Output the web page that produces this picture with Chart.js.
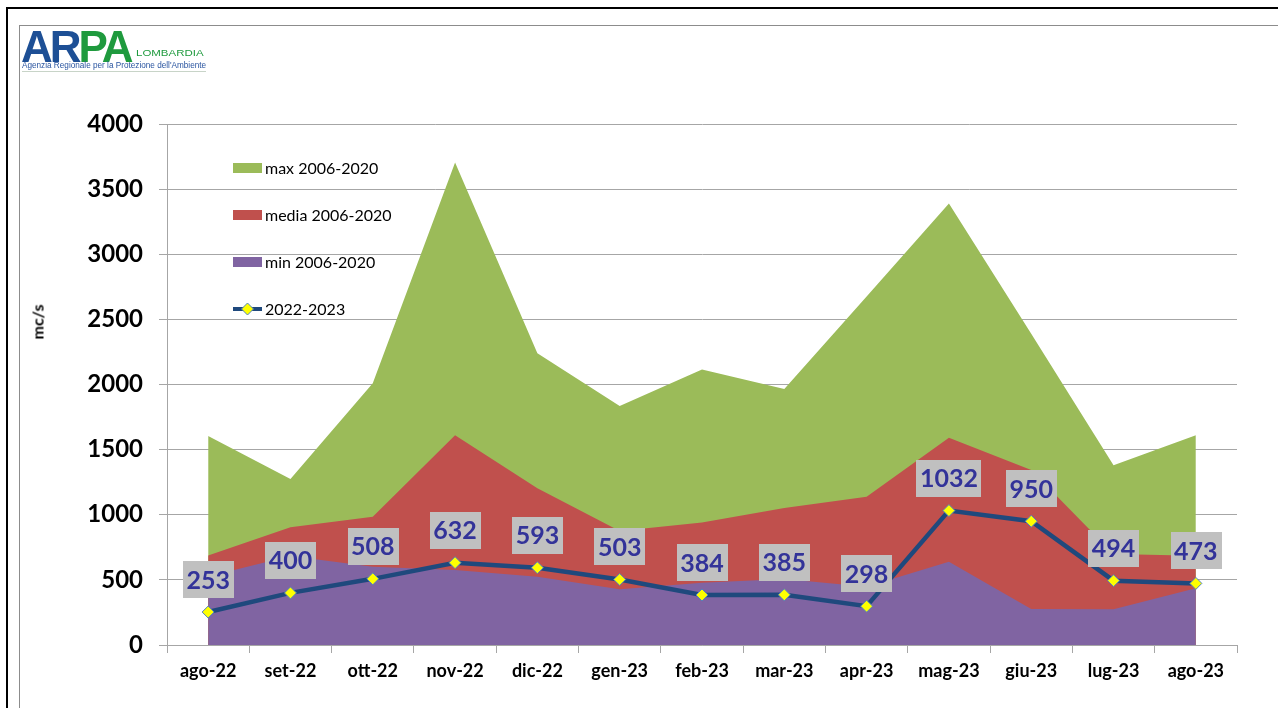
<!DOCTYPE html>
<html>
<head>
<meta charset="utf-8">
<script src="https://cdn.jsdelivr.net/npm/chart.js@4/dist/chart.umd.min.js"></script>
<style>
  html, body { margin: 0; padding: 0; background: #fff; overflow: hidden; }
  body { width: 1278px; height: 708px; position: relative; font-family: Lato, sans-serif; }
  .frame { position: absolute; left: 6px; top: 7px; width: 1300px; height: 720px; border: 2px solid #000; box-sizing: border-box; }
  .inner { position: absolute; left: 19px; top: 25px; width: 1300px; height: 720px; border: 1px solid #8c8c8c; box-sizing: border-box; }
  #wrap { position: absolute; left: 0; top: 0; width: 1278px; height: 708px; }
  .logo { position: absolute; left: 21px; top: 25px; width: 186px; height: 50px; font-family: 'Liberation Sans', Arial, sans-serif; }
  .logo .big { position: absolute; left: 0; top: 0; font-weight: bold; font-size: 44px; letter-spacing: -3px; line-height: 44px; white-space: nowrap; }
  .logo .ar { color: #1d4f95; }
  .logo .pa { color: #1f9a3e; }
  .logo .lomb { position: absolute; left: 115px; top: 23px; font-size: 8.5px; line-height: 10px; color: #1f9a3e; transform: scaleX(1.35); transform-origin: left top; white-space: nowrap; }
  .logo .sub { position: absolute; left: 1px; top: 36px; font-size: 8.2px; line-height: 9px; color: #2a55a0; white-space: nowrap; }
  .logo .rule { position: absolute; left: 1px; top: 46px; width: 184px; height: 1px; background: #c8d4c8; }
  .ytitle { position: absolute; left: 37px; top: 322px; transform: translate(-50%, -50%) rotate(-90deg); font-weight: bold; font-size: 16px; color: #000; white-space: nowrap; }
  .legend { position: absolute; left: 233px; top: 0; font-size: 16px; color: #000; }
  .legend .row { position: absolute; left: 0; height: 20px; white-space: nowrap; }
  .legend .sw { position: absolute; left: 0; top: 5px; width: 29px; height: 10px; }
  .legend .txt { position: absolute; left: 32px; top: 0; line-height: 20px; }
  .legend svg { position: absolute; left: -2px; top: 2px; }
</style>
</head>
<body>
<div class="frame"></div>
<div class="inner"></div>
<div id="wrap"><canvas id="myChart" width="1278" height="708"></canvas></div>

<div class="logo">
  <span class="big"><span class="ar">AR</span><span class="pa">PA</span></span>
  <span class="lomb">LOMBARDIA</span>
  <div class="sub">Agenzia Regionale per la Protezione dell'Ambiente</div>
  <div class="rule"></div>
</div>

<div class="ytitle">mc/s</div>

<div class="legend">
  <div class="row" style="top:158px"><div class="sw" style="background:#9bbb59"></div><span class="txt">max 2006-2020</span></div>
  <div class="row" style="top:205px"><div class="sw" style="background:#c0504d"></div><span class="txt">media 2006-2020</span></div>
  <div class="row" style="top:252px"><div class="sw" style="background:#8064a2"></div><span class="txt">min 2006-2020</span></div>
  <div class="row" style="top:299px">
    <svg width="34" height="16"><line x1="2" y1="8" x2="31" y2="8" stroke="#1f497d" stroke-width="4"/><polygon points="16.5,2 22.5,8 16.5,14 10.5,8" fill="#ffff00" stroke="#4f81bd" stroke-width="1"/></svg>
    <span class="txt">2022-2023</span>
  </div>
</div>

<script>
const categories = ['ago-22', 'set-22', 'ott-22', 'nov-22', 'dic-22', 'gen-23', 'feb-23', 'mar-23', 'apr-23', 'mag-23', 'giu-23', 'lug-23', 'ago-23']
const maxValues = [1605, 1275, 2010, 3705, 2240, 1835, 2115, 1965, 2675, 3390, 2390, 1380, 1610]
const mediaValues = [688, 904, 985, 1610, 1203, 875, 940, 1052, 1139, 1592, 1343, 699, 686]
const minValues = [525, 683, 601, 576, 524, 428, 478, 507, 448, 640, 276, 274, 435]
const flowValues = [253, 400, 508, 632, 593, 503, 384, 385, 298, 1032, 950, 494, 473]
const yTicks = [0, 500, 1000, 1500, 2000, 2500, 3000, 3500, 4000]

const gridColor = '#a6a6a6'

/**
 * Draws the grey value boxes above the points of the 2022-2023 line.
 */
const valueBoxes = {
  id: 'valueBoxes',
  afterDatasetsDraw (chart) {
    const ctx = chart.ctx
    const meta = chart.getDatasetMeta(0)
    ctx.save()
    ctx.font = 'bold 25px Lato, sans-serif'
    ctx.textAlign = 'center'
    ctx.textBaseline = 'middle'
    meta.data.forEach((pt, i) => {
      const text = String(chart.data.datasets[0].data[i])
      const w = ctx.measureText(text).width + 7
      const h = 37
      const bottom = pt.y - 14
      ctx.fillStyle = '#c0c0c0'
      ctx.fillRect(Math.round(pt.x - w / 2), Math.round(bottom - h), Math.round(w), h)
      ctx.fillStyle = '#333399'
      ctx.fillText(text, pt.x, bottom - h / 2 + 1)
    })
    ctx.restore()
  }
}

function areaSet (label, data, color, order) {
  return {
    type: 'line',
    label,
    data,
    backgroundColor: color,
    borderColor: color,
    borderWidth: 0,
    pointRadius: 0,
    fill: 'origin',
    tension: 0,
    order
  }
}

const ctx = document.getElementById('myChart').getContext('2d')
const myChart = new Chart(ctx, {
  type: 'line',
  data: {
    labels: categories,
    datasets: [
      {
        label: '2022-2023',
        data: flowValues,
        borderColor: '#1f497d',
        borderWidth: 4.5,
        pointStyle: 'rectRot',
        pointRadius: 6,
        pointBackgroundColor: '#ffff00',
        pointBorderColor: '#4f81bd',
        pointBorderWidth: 1,
        fill: false,
        tension: 0,
        order: 0
      },
      areaSet('min 2006-2020', minValues, '#8064a2', 1),
      areaSet('media 2006-2020', mediaValues, '#c0504d', 2),
      areaSet('max 2006-2020', maxValues, '#9bbb59', 3)
    ]
  },
  options: {
    responsive: false,
    animation: false,
    layout: { padding: { top: 124, right: 41, bottom: 0, left: 0 } },
    plugins: {
      legend: { display: false },
      tooltip: { enabled: false }
    },
    scales: {
      x: {
        offset: true,
        grid: { display: true, drawOnChartArea: false, offset: true, color: gridColor, tickLength: 8 },
        border: { color: gridColor },
        ticks: { color: '#000', font: { family: 'Lato', size: 18, weight: 'bold' }, padding: 7, maxRotation: 0, autoSkip: false },
        afterFit (scale) { scale.height = 63 }
      },
      y: {
        min: 0,
        max: 4000,
        afterBuildTicks (scale) { scale.ticks = yTicks.map(v => ({ value: v })) },
        grid: { color: gridColor, tickLength: 8 },
        border: { color: gridColor },
        ticks: {
          color: '#000',
          font: { family: 'Lato', size: 24, weight: 'bold' },
          padding: 16,
          callback: (value) => String(value)
        },
        afterFit (scale) { scale.width = 167 }
      }
    }
  },
  plugins: [valueBoxes]
})
</script>
</body>
</html>
